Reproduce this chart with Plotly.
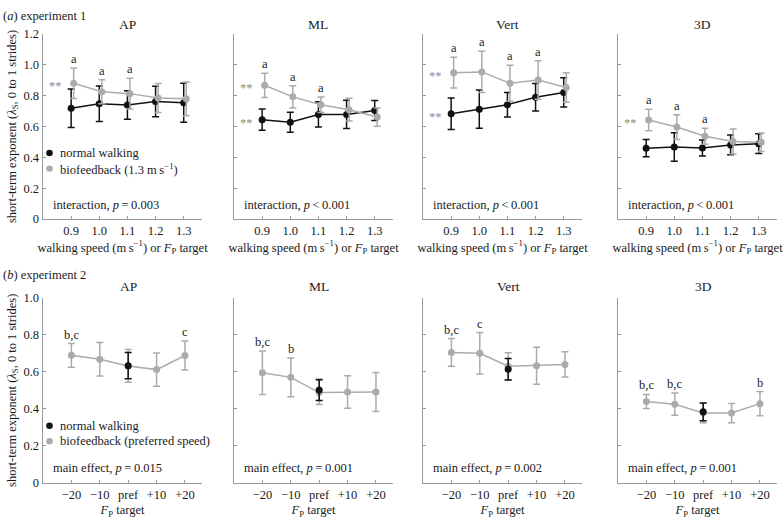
import plotly.graph_objects as go

# ---------------- data ----------------
speeds = [0.9, 1.0, 1.1, 1.2, 1.3]
speed_labels = ["0.9", "1.0", "1.1", "1.2", "1.3"]
fp_pos = [1, 2, 3, 4, 5]
fp_labels = ["\u221220", "\u221210", "pref", "+10", "+20"]
panels = ["AP", "ML", "Vert", "3D"]

# experiment 1: normal walking
e1_norm_mean = {
    "AP": [0.718, 0.747, 0.739, 0.762, 0.754],
    "ML": [0.644, 0.627, 0.678, 0.678, 0.703],
    "Vert": [0.682, 0.712, 0.741, 0.789, 0.821],
    "3D": [0.459, 0.467, 0.461, 0.480, 0.488],
}
e1_norm_err = {
    "AP": [0.125, 0.115, 0.092, 0.099, 0.127],
    "ML": [0.069, 0.065, 0.082, 0.092, 0.065],
    "Vert": [0.102, 0.124, 0.079, 0.089, 0.095],
    "3D": [0.056, 0.092, 0.052, 0.064, 0.064],
}
# experiment 1: biofeedback (1.3 m/s)
e1_bio_mean = {
    "AP": [0.880, 0.825, 0.813, 0.785, 0.779],
    "ML": [0.867, 0.792, 0.741, 0.709, 0.661],
    "Vert": [0.949, 0.954, 0.880, 0.901, 0.853],
    "3D": [0.642, 0.596, 0.537, 0.503, 0.497],
}
e1_bio_err = {
    "AP": [0.099, 0.078, 0.100, 0.094, 0.110],
    "ML": [0.079, 0.072, 0.050, 0.074, 0.059],
    "Vert": [0.100, 0.134, 0.117, 0.125, 0.096],
    "3D": [0.069, 0.080, 0.052, 0.081, 0.060],
}
e1_letters = {
    "AP": ["a", "a", "a", "", ""],
    "ML": ["a", "a", "a", "", ""],
    "Vert": ["a", "a", "a", "a", ""],
    "3D": ["a", "a", "a", "", ""],
}
e1_star_norm = {"AP": False, "ML": True, "Vert": True, "3D": False}
e1_star_bio = {"AP": True, "ML": True, "Vert": True, "3D": True}
e1_stats = {
    "AP": "interaction, <i>p</i>\u2009=\u20090.003",
    "ML": "interaction, <i>p</i>\u2009<\u20090.001",
    "Vert": "interaction, <i>p</i>\u2009<\u20090.001",
    "3D": "interaction, <i>p</i>\u2009<\u20090.001",
}

# experiment 2: biofeedback (preferred speed)
e2_bio_mean = {
    "AP": [0.689, 0.668, 0.632, 0.612, 0.688],
    "ML": [0.595, 0.570, 0.488, 0.491, 0.491],
    "Vert": [0.705, 0.700, 0.630, 0.633, 0.640],
    "3D": [0.440, 0.425, 0.377, 0.377, 0.428],
}
e2_bio_err = {
    "AP": [0.064, 0.091, 0.089, 0.090, 0.078],
    "ML": [0.118, 0.105, 0.065, 0.088, 0.105],
    "Vert": [0.075, 0.112, 0.073, 0.100, 0.068],
    "3D": [0.038, 0.060, 0.053, 0.052, 0.065],
}
# experiment 2: normal walking (preferred speed only)
e2_norm_mean = {"AP": 0.633, "ML": 0.502, "Vert": 0.614, "3D": 0.384}
e2_norm_err = {"AP": 0.071, "ML": 0.057, "Vert": 0.058, "3D": 0.048}
e2_letters = {
    "AP": ["b,c", "", "", "", "c"],
    "ML": ["b,c", "b", "", "", ""],
    "Vert": ["b,c", "c", "", "", ""],
    "3D": ["b,c", "b,c", "", "", "b"],
}
e2_stats = {
    "AP": "main effect, <i>p</i>\u2009=\u20090.015",
    "ML": "main effect, <i>p</i>\u2009=\u20090.001",
    "Vert": "main effect, <i>p</i>\u2009=\u20090.002",
    "3D": "main effect, <i>p</i>\u2009=\u20090.001",
}

y1_ticks = [0, 0.2, 0.4, 0.6, 0.8, 1.0, 1.2]
y1_labels = ["0", "0.2", "0.4", "0.6", "0.8", "1.0", "1.2"]
y2_ticks = [0, 0.2, 0.4, 0.6, 0.8, 1.0]
y2_labels = ["0", "0.2", "0.4", "0.6", "0.8", "1.0"]

# ---------------- style ----------------
W, H = 783, 531
FONT = "Liberation Serif"
BLACK = "#111111"
GREY = "#ababab"
AXC = "#9a9a9a"
TXT = "#1a1a1a"
FS = 12.5
DODGE = 0.009

left_px = [43, 234, 423, 618]
panel_w = 159
row_top = [(27.7, 217.7), (298.7, 488.7)]


def px(x):
    return x / W


def py(y):
    return 1 - y / H


fig = go.Figure()
layout = dict(
    width=W, height=H, margin=dict(l=0, r=0, t=0, b=0),
    paper_bgcolor="white", plot_bgcolor="white",
    font=dict(family=FONT, size=FS, color=TXT),
    showlegend=False,
)
annotations = []
shapes = []

for row in range(2):
    for j, name in enumerate(panels):
        idx = row * 4 + j + 1
        xa = f"x{idx}" if idx > 1 else "x"
        ya = f"y{idx}" if idx > 1 else "y"
        xkey = f"xaxis{idx}" if idx > 1 else "xaxis"
        ykey = f"yaxis{idx}" if idx > 1 else "yaxis"
        x0 = left_px[j]
        top, bot = row_top[row]
        if row == 0:
            xr = [0.8, 1.365]
            tv, tt = speeds, speed_labels
            yr = [0, 1.2]
            ytv, ytt = y1_ticks, y1_labels
            xtitle = "walking speed (m\u2009s<sup>\u22121</sup>) or <i>F</i><sub>P</sub> target"
        else:
            xr = [0, 5.6]
            tv, tt = fp_pos, fp_labels
            yr = [0, 1.0]
            ytv, ytt = y2_ticks, y2_labels
            xtitle = "<i>F</i><sub>P</sub> target"
        layout[xkey] = dict(
            domain=[px(x0), px(x0 + panel_w)], anchor=ya, range=xr,
            tickmode="array", tickvals=tv, ticktext=tt,
            showline=True, linecolor=AXC, linewidth=1.5,
            ticks="inside", ticklen=3, tickcolor=AXC, tickwidth=1,
            showgrid=False, zeroline=False,
            tickfont=dict(family=FONT, size=FS, color=TXT),
            title=dict(text=xtitle, standoff=4, font=dict(family=FONT, size=FS, color=TXT)),
        )
        layout[ykey] = dict(
            domain=[py(bot), py(top)], anchor=xa, range=yr,
            tickmode="array", tickvals=ytv, ticktext=ytt,
            showticklabels=(j == 0),
            showline=True, linecolor=AXC, linewidth=1.5,
            ticks="inside", ticklen=3, tickcolor=AXC, tickwidth=1,
            showgrid=False, zeroline=False,
            tickfont=dict(family=FONT, size=FS, color=TXT),
        )
        if j == 0:
            layout[ykey]["title"] = dict(
                text="short-term exponent (<i>\u03bb</i><sub>S</sub>, 0 to 1 strides)",
                standoff=4, font=dict(family=FONT, size=FS, color=TXT))

        # panel title
        annotations.append(dict(
            text=name, xref=xa, x=(1.1 if row == 0 else 3), yref="paper",
            y=py(18 if row == 0 else 287), showarrow=False,
            font=dict(family=FONT, size=13.5, color=TXT), xanchor="center", yanchor="middle"))
        # stats text
        annotations.append(dict(
            text=(e1_stats if row == 0 else e2_stats)[name], xref="paper", x=px(x0 + 8),
            yref="paper", y=py(203 if row == 0 else 473), showarrow=False,
            xanchor="left", yanchor="middle", font=dict(family=FONT, size=FS, color=TXT)))

        err_style = dict(type="data", thickness=1.5, width=3.5)
        if row == 0:
            nm, ne = e1_norm_mean[name], e1_norm_err[name]
            bm, be = e1_bio_mean[name], e1_bio_err[name]
            bx = [s + DODGE for s in speeds]
            fig.add_trace(go.Scatter(
                x=speeds, y=nm, xaxis=xa, yaxis=ya, mode="lines+markers",
                line=dict(color=BLACK, width=1.5), marker=dict(color=BLACK, size=7),
                error_y=dict(array=ne, color=BLACK, **err_style), cliponaxis=False,
                name="normal walking"))
            fig.add_trace(go.Scatter(
                x=bx, y=bm, xaxis=xa, yaxis=ya, mode="lines+markers",
                line=dict(color=GREY, width=1.5), marker=dict(color=GREY, size=7),
                error_y=dict(array=be, color=GREY, **err_style), cliponaxis=False,
                name="biofeedback (1.3 m/s)"))
            letters = e1_letters[name]
            for k, lt in enumerate(letters):
                if lt:
                    annotations.append(dict(
                        text=lt, xref=xa, x=bx[k], yref=ya, y=bm[k] + be[k],
                        showarrow=False, xanchor="center", yanchor="bottom", yshift=0,
                        font=dict(family=FONT, size=FS, color=TXT)))
            if e1_star_bio[name]:
                annotations.append(dict(
                    text="**", xref=xa, x=speeds[0], yref=ya, y=bm[0], showarrow=False,
                    xanchor="right", yanchor="middle", xshift=-7, yshift=-3,
                    font=dict(family=FONT, size=FS, color="#8a8a8a")))
            if e1_star_norm[name]:
                annotations.append(dict(
                    text="**", xref=xa, x=speeds[0], yref=ya, y=nm[0], showarrow=False,
                    xanchor="right", yanchor="middle", xshift=-7, yshift=-3,
                    font=dict(family=FONT, size=FS, color="#8a8a8a")))
        else:
            bm, be = e2_bio_mean[name], e2_bio_err[name]
            fig.add_trace(go.Scatter(
                x=fp_pos, y=bm, xaxis=xa, yaxis=ya, mode="lines+markers",
                line=dict(color=GREY, width=1.5), marker=dict(color=GREY, size=7),
                error_y=dict(array=be, color=GREY, **err_style), cliponaxis=False,
                name="biofeedback (preferred speed)"))
            fig.add_trace(go.Scatter(
                x=[fp_pos[2]], y=[e2_norm_mean[name]], xaxis=xa, yaxis=ya, mode="markers",
                marker=dict(color=BLACK, size=7),
                error_y=dict(array=[e2_norm_err[name]], color=BLACK, **err_style),
                cliponaxis=False, name="normal walking"))
            letters = e2_letters[name]
            for k, lt in enumerate(letters):
                if lt:
                    annotations.append(dict(
                        text=lt, xref=xa, x=fp_pos[k], yref=ya, y=bm[k] + be[k],
                        showarrow=False, xanchor="center", yanchor="bottom", yshift=0,
                        font=dict(family=FONT, size=FS, color=TXT)))

# row labels
annotations.append(dict(text="(<i>a</i>) experiment 1", xref="paper", yref="paper",
                        x=px(1), y=py(9), xanchor="left", yanchor="middle", showarrow=False,
                        font=dict(family=FONT, size=FS, color=TXT)))
annotations.append(dict(text="(<i>b</i>) experiment 2", xref="paper", yref="paper",
                        x=px(1), y=py(275), xanchor="left", yanchor="middle", showarrow=False,
                        font=dict(family=FONT, size=FS, color=TXT)))

# legend entries (drawn as key dots + text)
legend_rows = [
    (150, BLACK, "normal walking"),
    (166, GREY, "biofeedback (1.3 m\u2009s<sup>\u22121</sup>)"),
    (430, BLACK, "normal walking"),
    (446, GREY, "biofeedback (preferred speed)"),
]
for yy, col, lab in legend_rows:
    shapes.append(dict(type="circle", xref="paper", yref="paper",
                       x0=px(49.5 - 3.3), x1=px(49.5 + 3.3), y0=py(yy + 3.3), y1=py(yy - 3.3),
                       fillcolor=col, line=dict(width=0)))
    annotations.append(dict(text=lab, xref="paper", yref="paper", x=px(58), y=py(yy),
                            xanchor="left", yanchor="middle", showarrow=False,
                            font=dict(family=FONT, size=FS, color=TXT)))

layout["annotations"] = annotations
layout["shapes"] = shapes
fig.update_layout(**layout)
fig.write_html("out.html", config={"displayModeBar": False, "staticPlot": True},
               post_script="document.body.style.margin='0';document.body.style.overflow='hidden';")
